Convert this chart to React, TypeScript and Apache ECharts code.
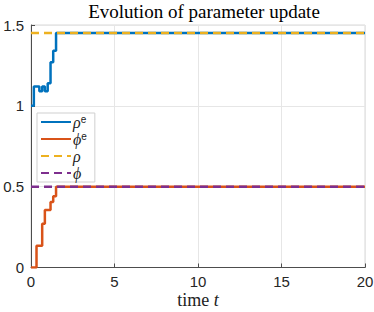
import React, { useEffect, useRef } from "react";
import * as echarts from "echarts";

const title = "Evolution of parameter update";
const xTicks = [0, 5, 10, 15, 20];
const yTicks = [0, 0.5, 1, 1.5];

// rho^e estimate (step changes)
const rhoEstT = [0, 0.17, 0.5, 0.67, 0.83, 1.0, 1.17, 1.33, 1.5, 20];
const rhoEstV = [1.0, 1.12, 1.09, 1.12, 1.09, 1.14, 1.27, 1.34, 1.45, 1.45];

// phi^e estimate (step changes)
const phiEstT = [0, 0.33, 0.67, 0.83, 1.17, 1.33, 1.5, 20];
const phiEstV = [0, 0.135, 0.27, 0.355, 0.405, 0.44, 0.5, 0.5];

// true values
const rhoTrue = 1.45;
const phiTrue = 0.5;
const tSpan = [0, 20];

const seriesNames = ["rho_e", "phi_e", "rho", "phi"];
const colors = ["#0072BD", "#D95319", "#EDB120", "#7E2F8E"];

export default function App() {
  const ref = useRef<HTMLDivElement>(null);
  useEffect(() => {
    if (!ref.current) return;
    const chart = echarts.init(ref.current, null, { renderer: "svg" });
    const pair = (ts: number[], vs: number[]) => ts.map((t, i) => [t, vs[i]]);
    const serif = "Liberation Serif";
    const sans = "Liberation Sans";
    const legendLabels: Record<string, string> = {
      rho_e: "{i|ρ}{s|e}",
      phi_e: "{i|ϕ}{s|e}",
      rho: "{i|ρ}",
      phi: "{i|ϕ}",
    };
    chart.setOption({
      animation: false,
      color: colors,
      title: {
        text: title,
        left: 199,
        top: -3,
        textAlign: "center",
        textStyle: { fontFamily: serif, fontSize: 19, fontWeight: "normal", color: "#000" },
      },
      grid: {
        left: 31,
        right: 9,
        top: 25,
        bottom: 44.5,
        show: true,
        borderColor: "#d9d9d9",
        borderWidth: 1,
        containLabel: false,
        outerBoundsMode: "none",
      },
      legend: {
        orient: "vertical",
        left: 37,
        top: 113,
        data: seriesNames,
        itemWidth: 30,
        itemHeight: 10,
        itemGap: 1,
        padding: [1, 8, 1, 3],
        backgroundColor: "#fff",
        borderColor: "#cfcfcf",
        borderWidth: 1,
        borderRadius: 0,
        itemStyle: { opacity: 0, borderWidth: 0 },
        formatter: (n: string) => legendLabels[n],
        textStyle: {
          fontFamily: serif,
          fontSize: 15,
          color: "#222",
          padding: [0, 0, 0, -3],
          rich: {
            i: { fontFamily: serif, fontStyle: "italic", fontSize: 16, lineHeight: 16, color: "#222" },
            s: { fontFamily: sans, fontStyle: "normal", fontSize: 10, lineHeight: 10, verticalAlign: "top", color: "#222" },
          },
        },
      },
      xAxis: {
        type: "value",
        min: xTicks[0],
        max: xTicks[xTicks.length - 1],
        interval: 5,
        name: "{n|time }{i|t}",
        nameLocation: "middle",
        nameGap: 32,
        nameMoveOverlap: false,
        nameTextStyle: {
          fontStyle: "normal",
          verticalAlign: "middle",
          lineHeight: 18,
          rich: {
            n: { fontFamily: serif, fontStyle: "normal", fontSize: 18, lineHeight: 18, color: "#222" },
            i: { fontFamily: serif, fontStyle: "italic", fontSize: 18, lineHeight: 18, color: "#222" },
          },
        },
        axisLine: { show: true, onZero: false, lineStyle: { color: "#4d4d4d", width: 1 } },
        axisTick: { show: true, inside: true, length: 4, lineStyle: { color: "#4d4d4d" } },
        axisLabel: { fontFamily: sans, fontSize: 15, color: "#262626", margin: 6 },
        splitLine: { show: true, lineStyle: { color: "#e6e6e6", width: 1 } },
      },
      yAxis: {
        type: "value",
        min: yTicks[0],
        max: yTicks[yTicks.length - 1],
        interval: 0.5,
        axisLine: { show: true, onZero: false, lineStyle: { color: "#4d4d4d", width: 1 } },
        axisTick: { show: true, inside: true, length: 4, lineStyle: { color: "#4d4d4d" } },
        axisLabel: { fontFamily: sans, fontSize: 15, color: "#262626", margin: 7 },
        splitLine: { show: true, lineStyle: { color: "#e6e6e6", width: 1 } },
      },
      series: [
        {
          name: seriesNames[0],
          type: "line",
          step: "end",
          symbol: "none",
          data: pair(rhoEstT, rhoEstV),
          lineStyle: { width: 2.5, color: colors[0] },
        },
        {
          name: seriesNames[1],
          type: "line",
          step: "end",
          symbol: "none",
          data: pair(phiEstT, phiEstV),
          lineStyle: { width: 2.5, color: colors[1] },
        },
        {
          name: seriesNames[2],
          type: "line",
          symbol: "none",
          data: tSpan.map((t) => [t, rhoTrue]),
          lineStyle: { width: 2.5, color: colors[2], type: [8, 5] },
        },
        {
          name: seriesNames[3],
          type: "line",
          symbol: "none",
          data: tSpan.map((t) => [t, phiTrue]),
          lineStyle: { width: 2.5, color: colors[3], type: [8, 5] },
        },
      ],
    });
    return () => chart.dispose();
  }, []);
  return <div ref={ref} style={{ width: 374, height: 312, position: "absolute", left: 0, top: 0 }} />;
}
